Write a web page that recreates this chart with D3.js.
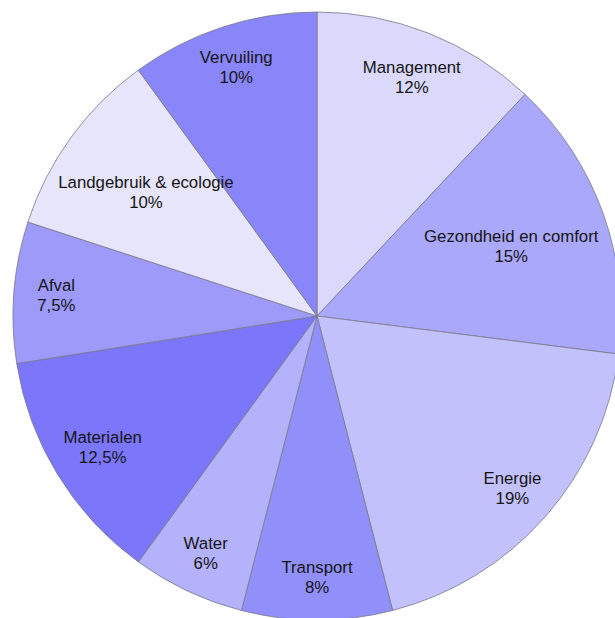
<!DOCTYPE html>
<html>
<head>
<meta charset="utf-8">
<script src="https://cdn.jsdelivr.net/npm/d3@7"></script>
<style>
  html, body { margin: 0; padding: 0; background: #ffffff; }
  svg { display: block; }
  text { font-family: "Liberation Sans", Arial, Helvetica, sans-serif; fill: #151515; }
</style>
</head>
<body>
<svg id="chart" width="615" height="618"></svg>
<script>
// Data
const categories = ["Management", "Gezondheid en comfort", "Energie", "Transport", "Water",
                    "Materialen", "Afval", "Landgebruik & ecologie", "Vervuiling"];
const shares = [12, 15, 19, 8, 6, 12.5, 7.5, 10, 10];
const palette = ["#dad9fc", "#aaa8fb", "#c3c1fc", "#9190fb", "#b4b2fb",
                 "#7b76fa", "#9d9afa", "#e6e5fb", "#8986fa"];

const width = 615, height = 618;
const cx = 317, cy = 316, R = 304;

const svg = d3.select("#chart");
svg.append("rect").attr("width", width).attr("height", height).attr("fill", "#fff");

const nl = d3.formatLocale({decimal: ",", thousands: ".", grouping: [3], currency: ["€", ""]});
const fmt = v => nl.format("~f")(v) + "%";

const color = d3.scaleOrdinal().domain(categories).range(palette);

const pie = d3.pie().sort(null).value(d => d.value);
const data = categories.map((c, i) => ({name: c, value: shares[i]}));
const arcs = pie(data);
const arc = d3.arc().innerRadius(0).outerRadius(R);

const g = svg.append("g").attr("transform", `translate(${cx},${cy})`);

g.selectAll("path.slice")
  .data(arcs)
  .join("path")
  .attr("class", "slice")
  .attr("d", arc)
  .attr("fill", d => color(d.data.name))
  .attr("stroke", "#7a7a8a")
  .attr("stroke-width", 0.8)
  .attr("stroke-linejoin", "round");

// Labels
const labels = g.selectAll("g.label")
  .data(arcs)
  .join("g")
  .attr("class", "label");

const fs = 16.8;
labels.append("text")
  .attr("text-anchor", "middle")
  .attr("font-size", fs)
  .attr("y", -4)
  .text(d => d.data.name);
labels.append("text")
  .attr("text-anchor", "middle")
  .attr("font-size", fs)
  .attr("y", 16)
  .text(d => fmt(d.data.value));

const pad = 8;
labels.each(function(d) {
  const node = this;
  const bb = node.getBBox();
  const a = (d.startAngle + d.endAngle) / 2;
  const s = Math.sin(a), c = -Math.cos(a);
  let r = 0.86 * R;
  const fits = rr => {
    const x = rr * s, y = rr * c;
    const corners = [[x + bb.x, y + bb.y], [x + bb.x + bb.width, y + bb.y],
                     [x + bb.x, y + bb.y + bb.height], [x + bb.x + bb.width, y + bb.y + bb.height]];
    return corners.every(([px, py]) => Math.hypot(px, py) <= R - pad);
  };
  while (r > 0 && !fits(r)) r -= 1;
  d3.select(node).attr("transform", `translate(${r * s},${r * c})`);
});
</script>
</body>
</html>
